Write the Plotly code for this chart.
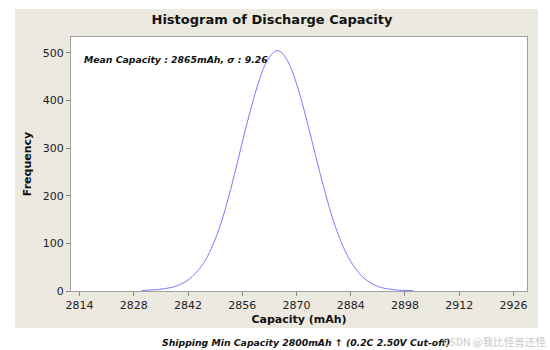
import plotly.graph_objects as go

# Fitted distribution curve of discharge capacity (mAh) vs frequency
capacity = [2830, 2832, 2834, 2836, 2838, 2840, 2842, 2844, 2846, 2848,
            2850, 2852, 2854, 2856, 2858, 2860, 2862, 2864, 2865, 2866,
            2868, 2870, 2872, 2874, 2876, 2878, 2880, 2882, 2884, 2886,
            2888, 2890, 2892, 2894, 2896, 2898, 2900]
frequency = [1, 2, 3, 5, 8, 14, 23, 38, 58, 89,
             130, 183, 245, 312, 376, 433, 477, 501, 505, 502,
             479, 436, 379, 315, 250, 189, 136, 94, 62, 39,
             23, 13, 7, 4, 2, 1, 1]

x_ticks = [2814, 2828, 2842, 2856, 2870, 2884, 2898, 2912, 2926]
y_ticks = [0, 100, 200, 300, 400, 500]

FONT = "DejaVu Sans"
W, H = 550, 350
L, R, T, B = 71, 23, 37, 59
pw, ph = W - L - R, H - T - B


def px_x(p):
    return (p - L) / pw


def px_y(p):
    return (H - B - p) / ph


fig = go.Figure()
fig.add_trace(go.Scatter(
    x=capacity, y=frequency, mode="lines",
    line=dict(color="#7b7bff", width=1, shape="spline"),
    hoverinfo="skip", showlegend=False,
))

fig.update_layout(
    width=W, height=H,
    margin=dict(l=L, r=R, t=T, b=B, pad=0),
    paper_bgcolor="white",
    plot_bgcolor="white",
    font=dict(family=FONT, color="#222222", size=11),
    title=dict(
        text="<b>Histogram of Discharge Capacity</b>",
        font=dict(family=FONT, size=13, color="#111111"),
        x=px_x(272), xref="paper", xanchor="center",
        y=1 - 19 / H, yref="container", yanchor="middle",
    ),
    xaxis=dict(
        range=[2811.8, 2929.5], tickvals=x_ticks,
        ticks="outside", ticklen=4, tickcolor="#888888",
        showline=True, linecolor="#a0a0a0", linewidth=1, mirror=True,
        showgrid=False, zeroline=False,
        tickfont=dict(size=11, color="#222222"),
        title=dict(text="<b>Capacity (mAh)</b>",
                   font=dict(size=11, color="#111111"), standoff=4),
    ),
    yaxis=dict(
        range=[0, 533.6], tickvals=y_ticks,
        ticks="outside", ticklen=4, tickcolor="#888888",
        showline=True, linecolor="#a0a0a0", linewidth=1, mirror=True,
        showgrid=False, zeroline=False,
        tickfont=dict(size=11, color="#222222"),
        title=dict(text="<b>Frequency</b>",
                   font=dict(size=11, color="#111111"), standoff=8),
    ),
    shapes=[
        # beige chart frame
        dict(type="rect", xref="paper", yref="paper", layer="below",
             x0=px_x(15), x1=px_x(538), y0=px_y(328), y1=px_y(9),
             fillcolor="#ece9e0", line=dict(width=0)),
        # white data region
        dict(type="rect", xref="paper", yref="paper", layer="below",
             x0=0, x1=1, y0=0, y1=1,
             fillcolor="white", line=dict(width=0)),
    ],
    annotations=[
        dict(text="<b><i>Mean Capacity : 2865mAh, σ : 9.26</i></b>",
             xref="paper", yref="paper", x=px_x(82), y=px_y(60),
             xanchor="left", yanchor="middle", showarrow=False,
             font=dict(size=9.3, color="#111111")),
        dict(text="<b><i>Shipping Min Capacity 2800mAh ↑ (0.2C 2.50V Cut-off)</i></b>",
             xref="paper", yref="paper", x=px_x(452), y=px_y(342),
             xanchor="right", yanchor="middle", showarrow=False,
             font=dict(size=9.3, color="#111111")),
        dict(text="CSDN @我比怪兽还怪",
             xref="paper", yref="paper", x=px_x(548), y=px_y(341),
             xanchor="right", yanchor="middle", showarrow=False,
             font=dict(family="Noto Sans CJK SC", size=10.5, color="#c8c8c8")),
    ],
)

fig.write_html("out.html")
